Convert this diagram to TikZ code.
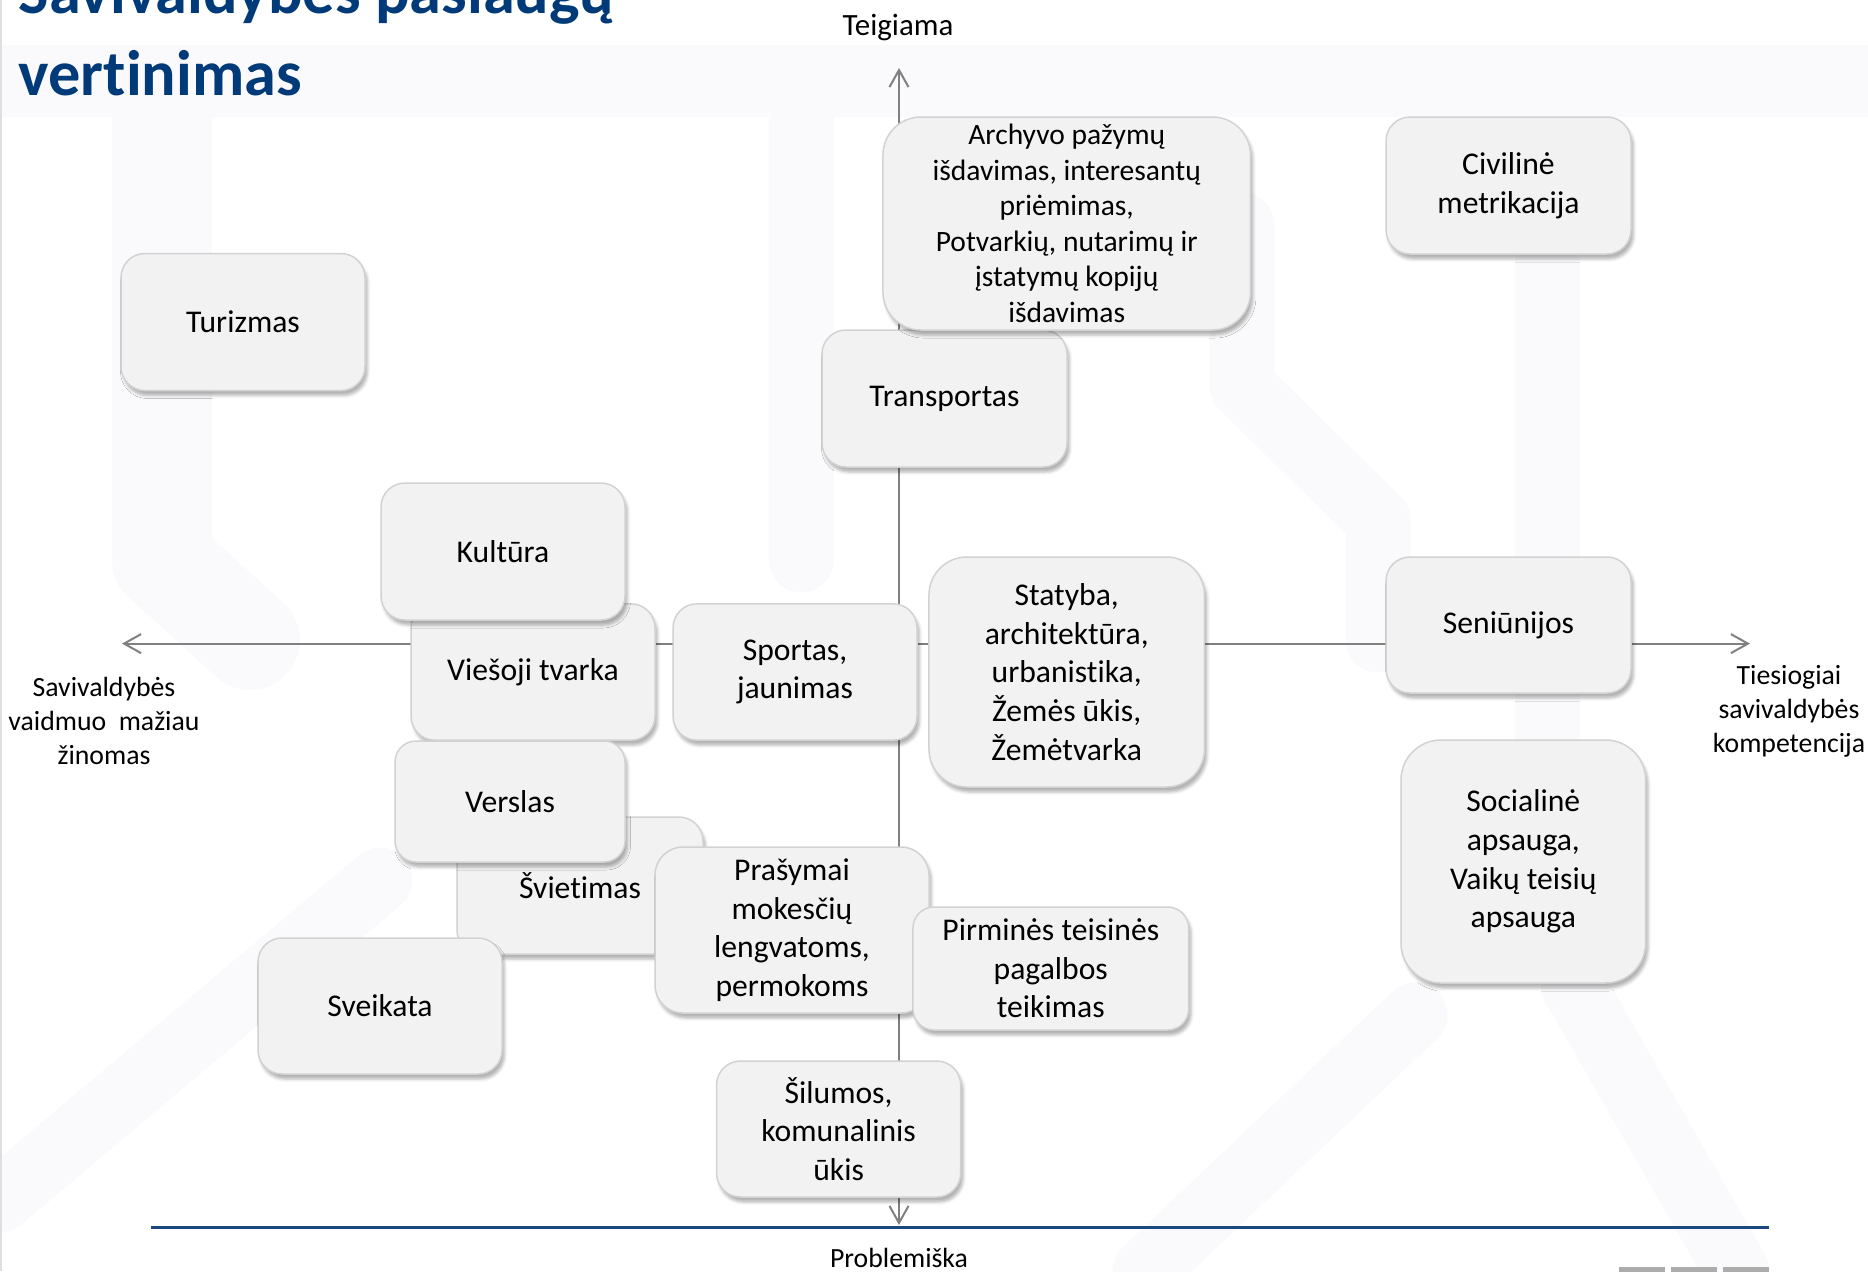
\documentclass[tikz,border=0pt]{standalone}
\usepackage{fontspec}
\setmainfont{Carlito}[Ligatures={NoCommon}]
\usepackage{tikz}
\usetikzlibrary{arrows.meta, shadows.blur}

\definecolor{boxfill}{RGB}{242,242,242}
\definecolor{boxline}{RGB}{210,210,210}
\definecolor{axisgray}{RGB}{128,128,128}
\definecolor{titleblue}{RGB}{0,58,120}
\definecolor{ruleblue}{RGB}{28,72,128}
\definecolor{bgpat}{RGB}{250,250,252}

\tikzset{
    box/.style={draw=boxline, fill=boxfill, line width=0.15mm, inner sep=0pt, align=center,
        font=\fontsize{9}{11}\selectfont,
        blur shadow={shadow xshift=0.25mm, shadow yshift=-0.5mm, shadow blur radius=0.3mm, shadow opacity=30}},
    axis/.style={axisgray, line width=0.2mm},
    axislabel/.style={align=center, inner sep=0pt, font=\fontsize{7.9}{9.7}\selectfont},
    bgband/.style={bgpat, line width=6.5mm, line cap=round, line join=round},
    barb/.tip={Straight Barb[length=1.7mm, width=1.9mm]}
}

\begin{document}
\begin{tikzpicture}[x=0.1mm, y=-0.1mm]
    \useasboundingbox (0,0) rectangle (1868,1271);
    \clip (0,0) rectangle (1868,1271);

    % background pattern
    \fill[bgpat] (0,45) rectangle (1868,117);
    \draw[bgband, line width=10mm] (162,117) -- (162,560) -- (250,640);
    \draw[bgband] (801,117) -- (801,560);
    \draw[bgband] (1242,225) -- (1242,386) -- (1378,520) -- (1378,640);
    \draw[bgband] (1547,260) -- (1547,740);
    \draw[bgband] (1145,1271) -- (1415,1015);
    \draw[bgband] (1737,1271) -- (1573,985);
    \draw[bgband] (0,1200) -- (380,880);
    \draw[gray!25, line width=0.3mm] (1,0) -- (1,1271);

    % axes
    \coordinate (xl) at (122,643.6);
    \coordinate (xr) at (1750,643.6);
    \coordinate (yt) at (899,68);
    \coordinate (yb) at (899,1225);
    \draw[axis, barb-barb] (xl) -- (xr);
    \draw[axis, barb-barb] (yt) -- (yb);

    % bottom rule
    \coordinate (rl) at (151,1227.7);
    \coordinate (rr) at (1768.5,1227.7);
    \draw[ruleblue, line width=0.3mm] (rl) -- (rr);
    \foreach \x in {1618.5,1670.8,1722.5}
    {
        \fill[gray!65] (\x,1267) rectangle ++(46,10);
    }

    % title
    \node[anchor=base west, inner sep=0pt, text=titleblue, font=\fontsize{18.3}{22}\selectfont\bfseries] (title1) at (18,13) {Savivaldybės paslaugų};
    \node[anchor=base west, inner sep=0pt, text=titleblue, font=\fontsize{18.3}{22}\selectfont\bfseries] (title2) at (18,95) {vertinimas};

    % axis labels
    \node[axislabel, anchor=base, font=\fontsize{8.8}{10}\selectfont] (pos) at (898,35) {Teigiama};
    \node[axislabel, anchor=base] (neg) at (899,1267) {Problemiška};
    \node[axislabel] (less) at (104,721) {Savivaldybės\\vaidmuo\ \ mažiau\\žinomas};
    \node[axislabel] (direct) at (1789,711) {Tiesiogiai\\savivaldybės\\kompetencija};

    % services
    \foreach \nm/\cx/\cy/\w/\h/\rc/\txt in {
        tur/243/322/244/137/2.4/Turizmas,
        trans/944.5/398.5/245/137/2.4/Transportas,
        civ/1508.5/185.5/245/137/2.4/{Civilinė\\metrikacija},
        vies/533/672/244/136.4/2.4/{Viešoji tvarka},
        kult/503/551.5/244/137/2.4/Kultūra,
        sport/795/672/244/136.4/2.4/{Sportas,\\jaunimas},
        stat/1066.7/672/275.5/230/3.8/{Statyba,\\architektūra,\\urbanistika,\\Žemės ūkis,\\Žemėtvarka},
        sen/1508.5/625/245/136/2.4/Seniūnijos,
        sviet/580/885.5/246/137/2.4/Švietimas,
        versl/510/801.5/230/121/2.1/Verslas,
        pras/792/930/274/166/2.8/{Prašymai\\mokesčių\\lengvatoms,\\permokoms},
        pirm/1050.8/968.5/275.7/123/2.1/{Pirminės teisinės\\pagalbos\\teikimas},
        sveik/380/1006/244/136/2.4/Sveikata,
        silum/838.6/1129/244.2/136/2.4/{Šilumos,\\komunalinis\\ūkis},
        soc/1523.3/861.5/244.6/243/4.0/{Socialinė\\apsauga,\\Vaikų teisių\\apsauga}}
    {
        \node[box, rounded corners=\rc mm, minimum width=\w*0.1mm, minimum height=\h*0.1mm] (\nm) at (\cx,\cy) {\txt};
    }

    \node[box, rounded corners=3.8mm, minimum width=36.75mm, minimum height=21.3mm, font=\fontsize{8.4}{10.1}\selectfont] (arch) at (1066.7,223.5)
        {Archyvo pažymų\\išdavimas, interesantų\\priėmimas,\\Potvarkių, nutarimų ir\\įstatymų kopijų\\išdavimas};
\end{tikzpicture}
\end{document}
